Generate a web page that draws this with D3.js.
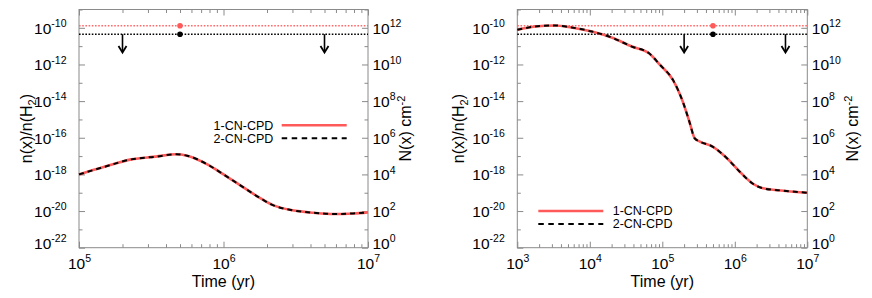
<!DOCTYPE html>
<html><head><meta charset="utf-8">
<script src="https://cdn.jsdelivr.net/npm/d3@7"></script>
<style>
body{margin:0;background:#fff}
svg{display:block;font-family:"Liberation Sans",Arial,Helvetica,sans-serif}
</style>
</head><body>
<svg id="c" width="872" height="298"></svg>
<script>
// ---------------- data ----------------
const seriesNames = ["1-CN-CPD", "2-CN-CPD"];

// left panel (time 1e5 - 1e7 yr)
const timeA = [1.0e5, 1.5e5, 2.3e5, 3.4e5, 4.7e5, 5.6e5, 7.9e5, 1.0e6, 1.3e6, 1.7e6, 2.2e6, 3.0e6, 4.2e6, 5.8e6, 7.9e6, 1.0e7];
const cnA1  = [1.0e-18, 2.6e-18, 6.6e-18, 9.3e-18, 1.26e-17, 1.05e-17, 3.2e-18, 1.0e-18, 2.6e-19, 6.6e-20, 2.1e-20, 1.1e-20, 8.1e-21, 6.9e-21, 7.4e-21, 8.5e-21];
const cnA2  = [1.0e-18, 2.6e-18, 6.6e-18, 9.3e-18, 1.26e-17, 1.05e-17, 3.2e-18, 1.0e-18, 2.6e-19, 6.6e-20, 2.1e-20, 1.1e-20, 8.1e-21, 6.9e-21, 7.4e-21, 8.5e-21];

// right panel (time 1e3 - 1e7 yr)
const timeB = [1.0e3, 1.75e3, 3.3e3, 5.6e3, 1.07e4, 2.0e4, 3.8e4, 6.5e4, 9.3e4, 1.4e5, 1.95e5, 2.4e5, 2.8e5, 3.3e5, 5.0e5, 7.8e5, 1.17e6, 1.8e6, 2.45e6, 4.7e6, 1.0e7];
const cnB1  = [7.8e-11, 1.17e-10, 1.35e-10, 1.05e-10, 6.3e-11, 2.95e-11, 9.5e-12, 4.2e-12, 9.5e-13, 1.45e-13, 7.8e-15, 6.2e-16, 9.3e-17, 6.2e-17, 3.2e-17, 7.6e-18, 1.4e-18, 3.0e-19, 1.74e-19, 1.29e-19, 1.0e-19];
const cnB2  = [7.8e-11, 1.17e-10, 1.35e-10, 1.05e-10, 6.3e-11, 2.95e-11, 9.5e-12, 4.2e-12, 9.5e-13, 1.45e-13, 7.8e-15, 6.2e-16, 9.3e-17, 6.2e-17, 3.2e-17, 7.6e-18, 1.4e-18, 3.0e-19, 1.74e-19, 1.29e-19, 1.0e-19];

// observations
const obsTime = 5e5;
const obsRed = 1.3e-10;
const obsBlack = 4.5e-11;
const limitTimes = [2e5, 5e6];
const limitFrom = 4.5e-11;
const limitTo = 4.5e-12;

// axes
const yDomain = [1e-22, 1e-9];
const nDomain = [1e0, 1e13];
const yLabelExps = [-10, -12, -14, -16, -18, -20, -22];
const nLabelExps = [12, 10, 8, 6, 4, 2, 0];
const xLabelExpsA = [5, 6, 7];
const xLabelExpsB = [3, 4, 5, 6, 7];

// ---------------- drawing ----------------
const svg = d3.select("#c");
const AX = "#8a8a8a";
const RED = "#ff5a5a";

function superText(sel, base, sup, baseSize, supSize, supDy) {
  sel.append("tspan").text(base).attr("font-size", baseSize);
  sel.append("tspan").text(sup).attr("font-size", supSize).attr("dy", -supDy);
}

function drawPanel(p) {
  const g = svg.append("g");
  const x = d3.scaleLog().domain(p.xDomain).range([p.x0, p.x1]);
  const y = d3.scaleLog().domain(yDomain).range([p.y1, p.y0]);
  const yN = d3.scaleLog().domain(nDomain).range([p.y1, p.y0]);

  // tick value sets
  const lo = Math.round(Math.log10(p.xDomain[0])), hi = Math.round(Math.log10(p.xDomain[1]));
  const xMajor = d3.range(lo, hi + 1).map(e => Math.pow(10, e));
  const xMinor = [];
  for (let e = lo; e < hi; e++) for (let m = 2; m <= 9; m++) xMinor.push(m * Math.pow(10, e));
  const yAll = d3.range(-22, -8).map(e => Math.pow(10, e));
  const yMaj = yAll.filter(v => Math.round(Math.log10(v)) % 2 === 0);
  const yMin = yAll.filter(v => Math.round(Math.log10(v)) % 2 !== 0);
  const nAll = d3.range(0, 14).map(e => Math.pow(10, e));
  const nMaj = nAll.filter(v => Math.round(Math.log10(v)) % 2 === 0);
  const nMin = nAll.filter(v => Math.round(Math.log10(v)) % 2 !== 0);

  function axisG(axis, tx, ty) {
    const a = g.append("g").attr("transform", `translate(${tx},${ty})`).call(axis);
    a.select(".domain").remove();
    a.selectAll("line").attr("stroke", AX).attr("stroke-width", 1);
    a.selectAll("text").remove();
    return a;
  }
  // bottom / top x ticks
  const xb = axisG(d3.axisBottom(x).tickValues(xMajor).tickSize(-6).tickSizeOuter(0).tickFormat(""), 0, p.y1);
  axisG(d3.axisBottom(x).tickValues(xMinor).tickSize(-3.5).tickSizeOuter(0).tickFormat(""), 0, p.y1);
  axisG(d3.axisTop(x).tickValues(xMajor).tickSize(-6).tickSizeOuter(0).tickFormat(""), 0, p.y0);
  axisG(d3.axisTop(x).tickValues(xMinor).tickSize(-3.5).tickSizeOuter(0).tickFormat(""), 0, p.y0);
  // left y ticks
  const yl = axisG(d3.axisLeft(y).tickValues(yMaj).tickSize(-6).tickSizeOuter(0).tickFormat(""), p.x0, 0);
  axisG(d3.axisLeft(y).tickValues(yMin).tickSize(-3.5).tickSizeOuter(0).tickFormat(""), p.x0, 0);
  // right N ticks
  const yr = axisG(d3.axisRight(yN).tickValues(nMaj).tickSize(-6).tickSizeOuter(0).tickFormat(""), p.x1, 0);
  axisG(d3.axisRight(yN).tickValues(nMin).tickSize(-3.5).tickSizeOuter(0).tickFormat(""), p.x1, 0);

  // frame
  g.append("rect").attr("x", p.x0).attr("y", p.y0).attr("width", p.x1 - p.x0).attr("height", p.y1 - p.y0)
    .attr("fill", "none").attr("stroke", AX).attr("stroke-width", 1);

  // tick labels (lowest labels lifted to clear the x labels, as in the original)
  const lift = e => (e === -22 || e === 0) ? 0.3 : 5.3;
  xb.selectAll(".tick").filter(d => p.xLabels.includes(Math.round(Math.log10(d))))
    .append("text").attr("y", 21).attr("text-anchor", "middle").attr("fill", "#000")
    .each(function(d) { superText(d3.select(this), "10", String(Math.round(Math.log10(d))), 15.5, 10.5, 6.5); });
  yl.selectAll(".tick").filter(d => yLabelExps.includes(Math.round(Math.log10(d))))
    .append("text").attr("x", -12.5).attr("y", d => lift(Math.round(Math.log10(d)))).attr("text-anchor", "end").attr("fill", "#000")
    .each(function(d) { superText(d3.select(this), "10", String(Math.round(Math.log10(d))), 15.5, 10.5, 6.5); });
  yr.selectAll(".tick").filter(d => nLabelExps.includes(Math.round(Math.log10(d))))
    .append("text").attr("x", 4.5).attr("y", d => lift(Math.round(Math.log10(d)))).attr("text-anchor", "start").attr("fill", "#000")
    .each(function(d) { superText(d3.select(this), "10", String(Math.round(Math.log10(d))), 15.5, 10.5, 6.5); });

  // axis titles
  g.append("text").attr("x", (p.x0 + p.x1) / 2).attr("y", p.y1 + 39).attr("text-anchor", "middle")
    .attr("font-size", 16).text("Time (yr)");
  const yt = g.append("text").attr("transform", `translate(${p.yTitleX},${(p.y0 + p.y1) / 2}) rotate(-90)`)
    .attr("text-anchor", "middle").attr("font-size", 16);
  yt.append("tspan").text("n(x)/n(H");
  yt.append("tspan").text("2").attr("font-size", 11).attr("dy", 4);
  yt.append("tspan").text(")").attr("dy", -4);
  const nt = g.append("text").attr("transform", `translate(${p.nTitleX},${(p.y0 + p.y1) / 2}) rotate(-90)`)
    .attr("text-anchor", "middle").attr("font-size", 16);
  nt.append("tspan").text("N(x) cm");
  nt.append("tspan").text("-2").attr("font-size", 11).attr("dy", -6);

  // observation lines
  g.append("line").attr("x1", p.x0).attr("x2", p.x1).attr("y1", y(obsRed)).attr("y2", y(obsRed))
    .attr("stroke", "#ff6a6a").attr("stroke-width", 1.6).attr("stroke-dasharray", "1.6,1.6");
  g.append("line").attr("x1", p.x0).attr("x2", p.x1).attr("y1", y(obsBlack)).attr("y2", y(obsBlack))
    .attr("stroke", "#000").attr("stroke-width", 1.6).attr("stroke-dasharray", "1.6,1.6");
  g.append("circle").attr("cx", x(obsTime)).attr("cy", y(obsRed)).attr("r", 2.8).attr("fill", RED);
  g.append("circle").attr("cx", x(obsTime)).attr("cy", y(obsBlack)).attr("r", 2.8).attr("fill", "#000");

  // upper limit arrows
  limitTimes.forEach(t => {
    const ax = x(t), ya = y(limitFrom), yb = y(limitTo);
    g.append("line").attr("x1", ax).attr("x2", ax).attr("y1", ya).attr("y2", yb - 0.5)
      .attr("stroke", "#000").attr("stroke-width", 1.6);
    g.append("path").attr("d", `M${ax - 4},${yb - 6.5}L${ax},${yb}L${ax + 4},${yb - 6.5}`)
      .attr("fill", "none").attr("stroke", "#000").attr("stroke-width", 1.8);
  });

  // curves
  const line = d3.line().x(d => x(d[0])).y(d => y(d[1])).curve(d3.curveMonotoneX);
  g.append("path").datum(d3.zip(p.time, p.s1)).attr("d", line)
    .attr("fill", "none").attr("stroke", RED).attr("stroke-width", 2.6);
  g.append("path").datum(d3.zip(p.time, p.s2)).attr("d", line)
    .attr("fill", "none").attr("stroke", "#000").attr("stroke-width", 2).attr("stroke-dasharray", "5,4");

  // legend
  const L = p.legend;
  seriesNames.forEach((name, i) => {
    const ly = L.y + i * 13;
    g.append("line").attr("x1", L.lx0).attr("x2", L.lx1).attr("y1", ly).attr("y2", ly)
      .attr("stroke", i === 0 ? RED : "#000").attr("stroke-width", i === 0 ? 2.6 : 2)
      .attr("stroke-dasharray", i === 0 ? null : "5.5,4.5");
    g.append("text").attr("x", L.tx).attr("y", ly + 4.4).attr("text-anchor", L.anchor)
      .attr("font-size", 12.5).text(name);
  });
}

drawPanel({
  x0: 79, x1: 368, y0: 9.5, y1: 247.7, xDomain: [1e5, 1e7], xLabels: xLabelExpsA,
  time: timeA, s1: cnA1, s2: cnA2, yTitleX: 31.5, nTitleX: 411,
  legend: { y: 125.2, lx0: 281.7, lx1: 346.7, tx: 273.3, anchor: "end" }
});
drawPanel({
  x0: 517.3, x1: 807.3, y0: 9.5, y1: 247.7, xDomain: [1e3, 1e7], xLabels: xLabelExpsB,
  time: timeB, s1: cnB1, s2: cnB2, yTitleX: 463.5, nTitleX: 858,
  legend: { y: 211, lx0: 538.3, lx1: 603.3, tx: 612.7, anchor: "start" }
});
</script>
</body></html>
